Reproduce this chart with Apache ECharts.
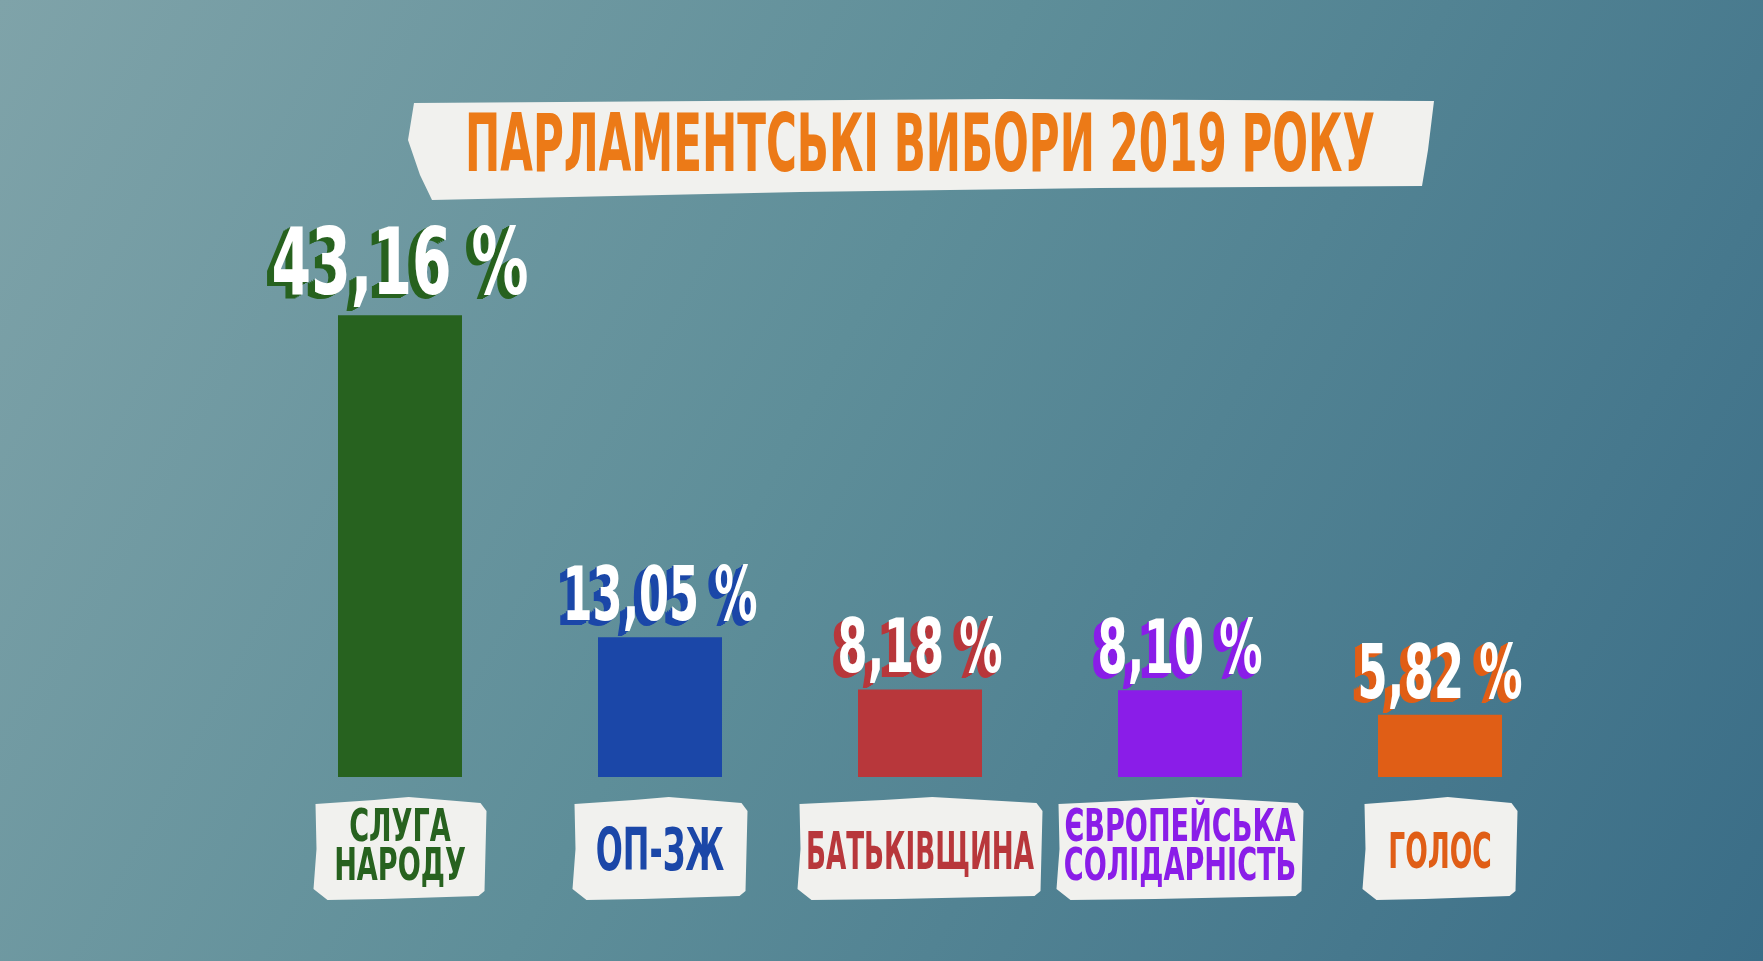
<!DOCTYPE html>
<html><head><meta charset="utf-8">
<script src="https://cdn.jsdelivr.net/npm/echarts@6/dist/echarts.min.js"></script>
<style>html,body{margin:0;padding:0;width:100%;height:100%;overflow:hidden;background:#5b8c99}#c{width:1763px;height:961px}</style>
</head><body><div id="c"></div>
<script>
// ---- data ----
const titleText = 'ПАРЛАМЕНТСЬКІ ВИБОРИ 2019 РОКУ';
const categories = ['СЛУГА\nНАРОДУ', 'ОП-ЗЖ', 'БАТЬКІВЩИНА', 'ЄВРОПЕЙСЬКА\nСОЛІДАРНІСТЬ', 'ГОЛОС'];
const values = [43.16, 13.05, 8.18, 8.10, 5.82];
const valueLabels = ['43,16 %', '13,05 %', '8,18 %', '8,10 %', '5,82 %'];

// ---- styles ----
const partyColors = ['#27621f', '#1b47a8', '#b8373b', '#8a1de8', '#e05e16'];
const boxWidths = [173, 175, 245, 247, 155];
const valueFontSizes = [93, 75, 75, 75, 75];
const valueScales = [0.68, 0.64, 0.64, 0.64, 0.64];
const catFontSizes = [45, 58, 52, 45, 50];
const catScales = [0.67, 0.61, 0.56, 0.67, 0.59];
const FONT = '"Liberation Sans Narrow", "DejaVu Sans Condensed", "Roboto", sans-serif';
const paper = '#f1f1ee';

const chart = echarts.init(document.getElementById('c'), null, {renderer: 'canvas'});

const option = {
  backgroundColor: {
    type: 'linear', x: 0, y: 0, x2: 1, y2: 1,
    colorStops: [
      {offset: 0, color: '#7fa3a9'},
      {offset: 0.45, color: '#5e8e99'},
      {offset: 1, color: '#3a6d87'}
    ]
  },
  animation: false,
  grid: {left: 270, right: 193, top: 242, bottom: 184},
  xAxis: {
    type: 'category', data: categories,
    axisLine: {show: false}, axisTick: {show: false}, axisLabel: {show: false}, splitLine: {show: false}
  },
  yAxis: {
    type: 'value', min: 0, max: 50,
    axisLine: {show: false}, axisTick: {show: false}, axisLabel: {show: false}, splitLine: {show: false}
  },
  graphic: [
    {
      type: 'polygon', silent: true,
      shape: {points: [[414, 103], [1000, 99], [1434, 101], [1428, 150], [1422, 186], [1100, 188], [800, 192], [432, 200], [420, 175], [408, 140]]},
      style: {fill: paper}
    },
    {
      type: 'text', x: 920, y: 150, scaleX: 0.585, silent: true,
      style: {
        text: titleText, fill: '#ec7a17',
        font: 'bold 80px ' + FONT,
        textAlign: 'center', textVerticalAlign: 'middle'
      }
    }
  ],
  series: [
    {
      type: 'bar', barWidth: 124, silent: true,
      data: values.map((v, i) => ({value: v, itemStyle: {color: partyColors[i]}}))
    },
    {
      type: 'custom', coordinateSystem: 'cartesian2d', clip: false, silent: true, z: 5,
      data: values.map((v, i) => [i, v]),
      renderItem: function (params, api) {
        const i = params.dataIndex;
        const p = api.coord([api.value(0), api.value(1)]);
        const fs = valueFontSizes[i];
        const sx = valueScales[i];
        const font = 'bold ' + fs + 'px ' + FONT;
        const children = [];
        const y0 = p[1] + 1;
        for (let k = 4; k >= 1; k--) {
          children.push({
            type: 'text', x: p[0] - 1.8 * k, y: y0 + 1.1 * k, scaleX: sx,
            style: {text: valueLabels[i], fill: partyColors[i], font: font, textAlign: 'center', textVerticalAlign: 'bottom'}
          });
        }
        children.push({
          type: 'text', x: p[0], y: y0, scaleX: sx,
          style: {text: valueLabels[i], fill: '#ffffff', font: font, textAlign: 'center', textVerticalAlign: 'bottom'}
        });
        return {type: 'group', children: children};
      }
    },
    {
      type: 'custom', coordinateSystem: 'cartesian2d', clip: false, silent: true, z: 5,
      data: categories.map((c, i) => [i, 0]),
      renderItem: function (params, api) {
        const i = params.dataIndex;
        const p = api.coord([api.value(0), 0]);
        const w = boxWidths[i], h = 100;
        const cx = p[0], top = p[1] + 22;
        const l = cx - w / 2, r = cx + w / 2;
        const pts = [
          [l + 2, top + 5], [l + w * 0.35, top + 1], [l + w * 0.55, top - 2], [r - 6, top + 4],
          [r, top + 12], [r - 2, top + h - 8], [r - 8, top + h - 3], [l + w * 0.4, top + h],
          [l + 14, top + h + 1], [l, top + h - 10], [l + 3, top + h * 0.5]
        ];
        const dy = categories[i].indexOf('\n') >= 0 ? 0 : 6;
        return {
          type: 'group',
          children: [
            {type: 'polygon', shape: {points: pts}, style: {fill: paper}},
            {
              type: 'text', x: cx, y: top + h / 2 + dy, scaleX: catScales[i],
              style: {
                text: categories[i], fill: partyColors[i],
                font: 'bold ' + catFontSizes[i] + 'px ' + FONT, lineHeight: 39,
                textAlign: 'center', textVerticalAlign: 'middle'
              }
            }
          ]
        };
      }
    }
  ]
};
chart.setOption(option);
</script>
</body></html>
